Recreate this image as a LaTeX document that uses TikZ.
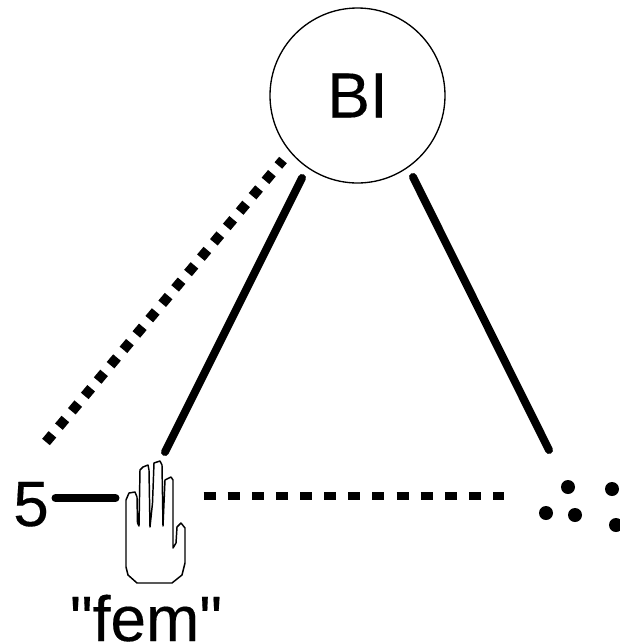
\documentclass[tikz,border=0pt]{standalone}
\usepackage{fontspec}
\setmainfont{Liberation Sans}[Ligatures=TeXOff,FakeBold=0.25]
\usetikzlibrary{positioning}
\tikzset{
  bignode/.style  = {draw, circle, line width=1pt, inner sep=0pt, minimum size=131.25pt},
  bigtext/.style  = {inner sep=0pt, anchor=base},
  solidlink/.style = {line width=6pt, line cap=round},
  dashlink/.style = {line width=6pt, dash pattern=on 9pt off 9.1pt},
  dotlink/.style  = {line width=7.5pt, dash pattern=on 7.5pt off 7.55pt},
  handline/.style = {line width=1.1pt, line join=round},
  braille/.style  = {fill, circle, inner sep=0pt, minimum size=10.5pt},
}
\begin{document}
\begin{tikzpicture}[x=0.75pt,y=-0.75pt,font=\fontsize{48}{48}\selectfont]
\useasboundingbox (0,0) rectangle (620,644);
\node[bignode] (bi) at (357.5,95.5) {BI};
\node[bigtext] (five) at (31,526) {5};
\node[bigtext] (fem) at (146,641) {"fem"};
% ends of the links stop short of the shapes
\coordinate (biLeft) at (302,178);
\coordinate (biRight) at (413,177);
\coordinate (biDot) at (283,160);
\coordinate (handTop) at (165,452);
\coordinate (dotsTop) at (549,450);
\coordinate (fiveEnd) at (55.5,498);
\coordinate (handLeft) at (115.5,498);
\coordinate (handRight) at (203.5,496);
\coordinate (dotsLeft) at (504,496);
\coordinate (numDot) at (46,442);
\draw[solidlink] (biLeft) -- (handTop);
\draw[solidlink] (biRight) -- (dotsTop);
\draw[solidlink] (fiveEnd) -- (handLeft);
\draw[dashlink] (handRight) -- (dotsLeft);
\draw[dotlink] (numDot) -- (biDot);
% the hand
\draw[handline] (126,567) -- (126,500) -- (129,493) -- (135,492) -- (137,497) -- (137.5,523)
  -- (139,526) -- (140,470) -- (143,467) -- (148,465) -- (149,470) -- (150,527)
  -- (152.5,503) -- (154,463) -- (160,461) -- (162,465) -- (163,526) -- (165,480)
  -- (171,477) -- (173,480) -- (173,548) -- (176,543) -- (177,527) -- (181,523)
  -- (185,528) -- (185,563) -- (182,575) -- (172,583) -- (137,583) -- (128,575) -- cycle;
\node[braille] (d1) at (568,487) {};
\node[braille] (d2) at (612,489) {};
\node[braille] (d3) at (546,513) {};
\node[braille] (d4) at (575,515) {};
\node[braille] (d5) at (616,525) {};
\end{tikzpicture}
\end{document}
